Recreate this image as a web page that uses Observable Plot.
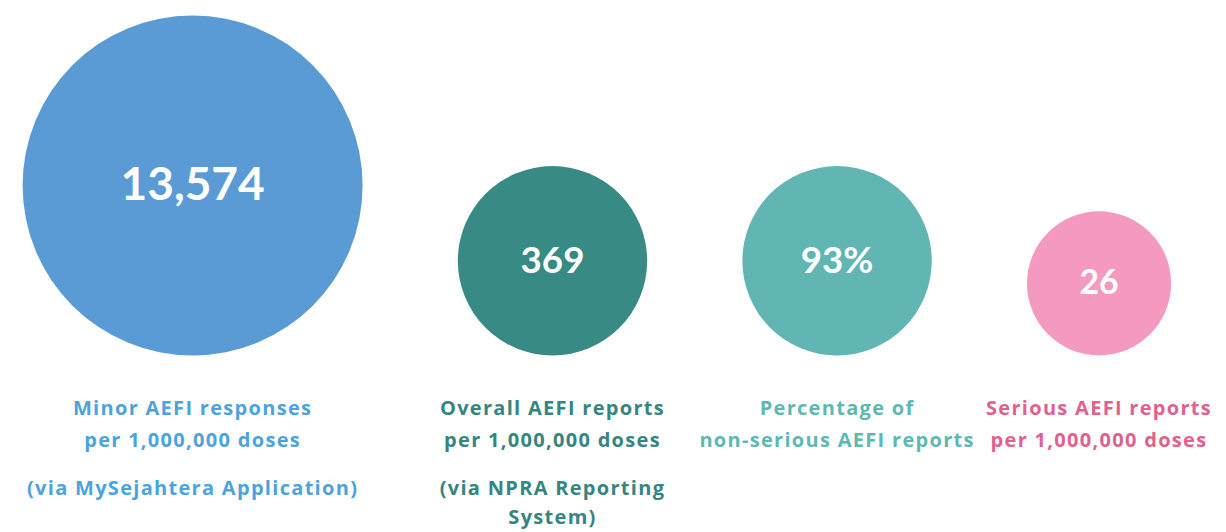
<!DOCTYPE html>
<html><head><meta charset="utf-8">
<script src="https://cdn.jsdelivr.net/npm/d3@7"></script>
<script src="https://cdn.jsdelivr.net/npm/@observablehq/plot@0.6"></script>
<style>body{margin:0;background:#fff}svg{display:block}</style>
</head><body><div id="chart"></div>
<script>
// ---- data ----
const metrics = ["Minor AEFI responses", "Overall AEFI reports", "Non-serious AEFI share", "Serious AEFI reports"];
const valueLabels = ["13,574", "369", "93%", "26"];
const bubbleSize = [1, 0.557, 0.557, 0.424]; // relative bubble radius as drawn
const captions = [
  "Minor AEFI responses\nper 1,000,000 doses",
  "Overall AEFI reports\nper 1,000,000 doses",
  "Percentage of\nnon-serious AEFI reports",
  "Serious AEFI reports\nper 1,000,000 doses"
];
const sources = ["(via MySejahtera Application)", "(via NPRA Reporting\nSystem)", "", ""];

// ---- styles / layout ----
const circleColors = ["#5B9BD5", "#388A84", "#61B6B3", "#F49AC0"];
const textColors = ["#4DA3DD", "#378580", "#5DB9B2", "#E0618E"];
const W = 1226, H = 532, U = 170;          // U: pixels per unit radius
const lead = 0.13, gap = 0.56, base = 2.088; // in radius units
let cursor = lead;
const rows = metrics.map((m, i) => {
  const r = bubbleSize[i];
  const cx = cursor + r;
  cursor = cx + r + gap;
  return {metric: m, value: valueLabels[i], size: r, cx, cy: base - r,
          caption: captions[i], source: sources[i],
          circle: circleColors[i], ink: textColors[i]};
});

const numFont = "Lato, 'Open Sans', sans-serif";
const capFont = "'Open Sans', Lato, sans-serif";
const chart = Plot.plot({
  width: W, height: H,
  margin: 0,
  style: {fontFamily: numFont, background: "#fff"},
  x: {domain: [0, W / U], range: [0, W], axis: null},
  y: {domain: [0, H / U], range: [0, H], axis: null},
  r: {type: "linear", domain: [0, 1], range: [0, U]},
  marks: [
    Plot.dot(rows, {x: "cx", y: "cy", r: "size", fill: d => d.circle, stroke: null}),
    Plot.text(rows, {x: "cx", y: "cy", text: "value", fill: "white", fontWeight: "bold",
      fontSize: d => 25 + 21 * d.size}),
    Plot.text(rows, {x: "cx", y: base + 0.217, text: "caption", fill: d => d.ink,
      fontFamily: capFont, fontWeight: "bold", fontSize: 20, lineHeight: 1.6, lineAnchor: "top"}),
    Plot.text(rows.filter(d => d.source), {x: "cx", y: base + 0.7, text: "source", fill: d => d.ink,
      fontFamily: capFont, fontWeight: "bold", fontSize: 20, lineHeight: 1.46, lineAnchor: "top"})
  ]
});
const groups = chart.querySelectorAll('g[aria-label="text"]');
[groups[1], groups[2]].forEach(g => g && (g.style.letterSpacing = "1.3px"));
document.getElementById("chart").append(chart);
</script>
</body></html>
